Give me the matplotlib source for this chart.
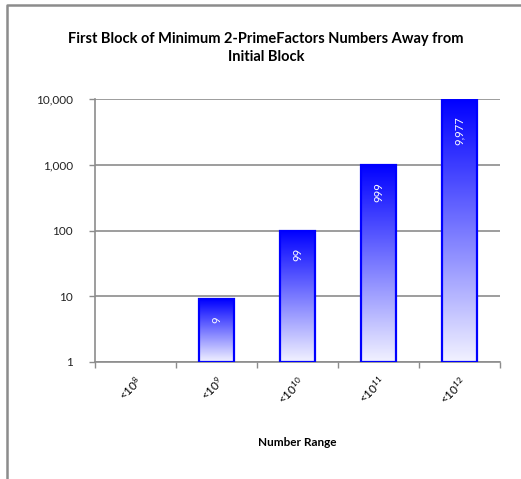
import numpy as np
import matplotlib
matplotlib.use("Agg")
import matplotlib.pyplot as plt
from matplotlib.lines import Line2D
from matplotlib.transforms import ScaledTranslation

plt.rcParams['font.family'] = ['Lato', 'DejaVu Sans']
plt.rcParams['mathtext.fontset'] = 'custom'
plt.rcParams['mathtext.rm'] = 'Lato'
plt.rcParams['mathtext.default'] = 'regular'

categories = ['<10$^{8}$', '<10$^{9}$', '<10$^{10}$', '<10$^{11}$', '<10$^{12}$']
values = [1, 9, 99, 999, 9977]
labels = ['', '9', '99', '999', '9,977']
yticks = [1, 10, 100, 1000, 10000]
ytick_labels = ['1', '10', '100', '1,000', '10,000']


def main():
    fig = plt.figure(figsize=(5.21, 4.79), dpi=100)
    ax = fig.add_axes([95 / 521, 1 - 362 / 479, 405 / 521, 263 / 479])

    # outer chart frame (only left/top edges are inside the picture)
    fx, fy = 7 / 521, 1 - 5 / 479
    fig.lines.append(Line2D([fx, fx, 1.0], [0.0, fy, fy],
                            transform=fig.transFigure, color='#8c8c8c',
                            linewidth=1.8))

    ax.set_yscale('log')
    ax.set_ylim(1, 10000)
    ax.set_xlim(-0.5, len(categories) - 0.5)

    x = np.arange(len(categories))
    width = 0.42
    grad = np.linspace(0, 1, 256).reshape(-1, 1)
    top = np.array([0, 0, 255]) / 255
    bottom = np.array([242, 242, 255]) / 255
    img = (top * (1 - grad) + bottom * grad).reshape(256, 1, 3)

    for xi, v, lab in zip(x, values, labels):
        if v <= 1:
            continue
        x0 = (xi - width / 2 + 0.5) / len(categories)
        x1 = (xi + width / 2 + 0.5) / len(categories)
        y1 = np.log10(v) / 4
        ax.imshow(img, extent=[x0, x1, 0, y1], transform=ax.transAxes,
                  aspect='auto', zorder=3, interpolation='bilinear')
        ax.bar(xi, v - 1, bottom=1, width=width, facecolor='none',
               edgecolor='#0000ff', linewidth=1.6, zorder=4)
        ax.annotate(lab, (xi, v), xytext=(0, -12.5), textcoords='offset points',
                    rotation=90, ha='center', va='top', color='white',
                    fontsize=8, zorder=5)

    ax.set_yticks(yticks)
    ax.set_yticklabels(ytick_labels)
    ax.yaxis.set_minor_locator(plt.NullLocator())
    ax.set_xticks(np.arange(len(categories) + 1) - 0.5)
    ax.set_xticklabels([])
    ax.tick_params(axis='x', length=4, color='#8c8c8c', width=1)
    ax.tick_params(axis='y', length=4, color='#8c8c8c', width=1,
                   labelsize=8.5, pad=12, labelcolor='#222222')
    ax.set_xticks(x, minor=True)
    ax.set_xticklabels(categories, minor=True, rotation=45, ha='right',
                       va='top', fontsize=8.5)
    ax.tick_params(axis='x', which='minor', length=0, pad=8.5)
    shift = ScaledTranslation(0.1, 0, fig.dpi_scale_trans)
    for t in ax.get_xticklabels(minor=True):
        t.set_transform(t.get_transform() + shift)

    ax.grid(axis='y', color='#8c8c8c', linewidth=1.2, zorder=0)
    ax.set_axisbelow(True)
    for s in ['top', 'right']:
        ax.spines[s].set_visible(False)
    for s in ['left', 'bottom']:
        ax.spines[s].set_color('#8c8c8c')
        ax.spines[s].set_linewidth(1.2)

    ax.set_xlabel('Number Range', fontsize=8.5, fontweight='bold', labelpad=22)
    fig.text(266 / 521, 1 - 48 / 479,
             'First Block of Minimum 2-PrimeFactors Numbers Away from\nInitial Block',
             ha='center', va='center', fontsize=10.5, fontweight='bold',
             linespacing=1.3)

    fig.savefig('out.png', dpi=100)


if __name__ == "__main__":
    main()
